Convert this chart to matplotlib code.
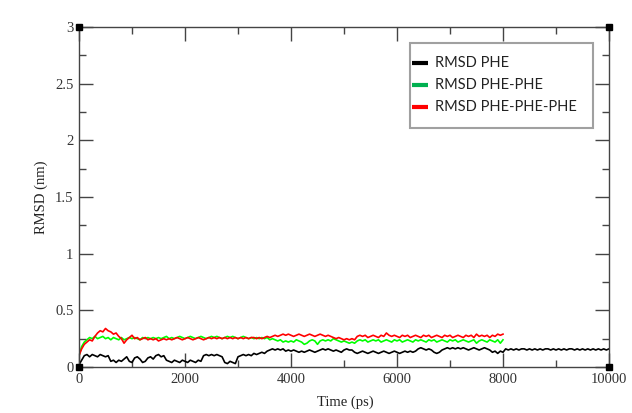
import numpy as np
import matplotlib
matplotlib.use("Agg")
import matplotlib.pyplot as plt
from matplotlib.lines import Line2D
from matplotlib.patches import Rectangle
from matplotlib.ticker import MultipleLocator, FormatStrFormatter

# ---- data (sampled every 50 ps) ----
dt = 50
rmsd_phe = [
    0.02, 0.06, 0.10, 0.11, 0.09, 0.11, 0.10, 0.09, 0.11, 0.10,
    0.09, 0.10, 0.05, 0.06, 0.04, 0.06, 0.05, 0.07, 0.09, 0.05,
    0.04, 0.08, 0.09, 0.07, 0.04, 0.05, 0.08, 0.09, 0.07, 0.10,
    0.11, 0.09, 0.10, 0.06, 0.05, 0.04, 0.06, 0.05, 0.04, 0.06,
    0.05, 0.04, 0.06, 0.05, 0.04, 0.06, 0.05, 0.10, 0.11, 0.10,
    0.11, 0.10, 0.11, 0.10, 0.09, 0.04, 0.03, 0.05, 0.04, 0.03,
    0.09, 0.10, 0.11, 0.10, 0.11, 0.10, 0.12, 0.11, 0.12, 0.13,
    0.12, 0.14, 0.15, 0.16, 0.15, 0.16, 0.15, 0.16, 0.14, 0.15,
    0.14, 0.15, 0.14, 0.13, 0.14, 0.13, 0.14, 0.15, 0.14, 0.13,
    0.14, 0.15, 0.16, 0.15, 0.16, 0.15, 0.14, 0.15, 0.14, 0.13,
    0.15, 0.16, 0.15, 0.15, 0.13, 0.12, 0.13, 0.14, 0.13, 0.12,
    0.13, 0.14, 0.13, 0.12, 0.13, 0.14, 0.13, 0.12, 0.13, 0.14,
    0.13, 0.12, 0.13, 0.14, 0.13, 0.14, 0.13, 0.14, 0.16, 0.17,
    0.16, 0.15, 0.16, 0.15, 0.13, 0.12, 0.13, 0.15, 0.16, 0.17,
    0.16, 0.17, 0.16, 0.17, 0.16, 0.17, 0.16, 0.15, 0.16, 0.17,
    0.16, 0.15, 0.16, 0.17, 0.16, 0.15, 0.13, 0.14, 0.12, 0.14,
    0.13, 0.16, 0.15, 0.16, 0.15, 0.16, 0.15, 0.16, 0.16, 0.15,
    0.16, 0.15, 0.16, 0.15, 0.16, 0.15, 0.16, 0.16, 0.15, 0.16,
    0.15, 0.16, 0.15, 0.16, 0.15, 0.16, 0.16, 0.15, 0.16, 0.15,
    0.16, 0.15, 0.16, 0.15, 0.16, 0.15, 0.16, 0.15, 0.16, 0.15,
    0.16,
]
rmsd_phe_phe = [
    0.10, 0.18, 0.22, 0.24, 0.26, 0.25, 0.27, 0.25, 0.26, 0.27,
    0.25, 0.26, 0.24, 0.26, 0.25, 0.24, 0.26, 0.24, 0.25, 0.26,
    0.25, 0.26, 0.25, 0.24, 0.26, 0.25, 0.26, 0.25, 0.26, 0.25,
    0.26, 0.25, 0.26, 0.27, 0.25, 0.26, 0.25, 0.26, 0.27, 0.26,
    0.25, 0.26, 0.27, 0.26, 0.25, 0.26, 0.27, 0.26, 0.25, 0.26,
    0.27, 0.26, 0.27, 0.26, 0.25, 0.26, 0.27, 0.26, 0.27, 0.26,
    0.25, 0.26, 0.27, 0.26, 0.25, 0.26, 0.25, 0.26, 0.25, 0.26,
    0.25, 0.26, 0.24, 0.25, 0.24, 0.23, 0.24, 0.22, 0.23, 0.22,
    0.23, 0.22, 0.24, 0.23, 0.22, 0.20, 0.21, 0.23, 0.24, 0.23,
    0.20, 0.23, 0.24, 0.23, 0.24, 0.23, 0.25, 0.24, 0.23, 0.22,
    0.23, 0.22, 0.21, 0.22, 0.21, 0.23, 0.24, 0.23, 0.24, 0.22,
    0.23, 0.24, 0.23, 0.24, 0.22, 0.23, 0.24, 0.23, 0.22, 0.24,
    0.23, 0.24, 0.22, 0.23, 0.24, 0.23, 0.22, 0.24, 0.23, 0.24,
    0.23, 0.22, 0.24, 0.23, 0.24, 0.22, 0.23, 0.24, 0.23, 0.22,
    0.24, 0.23, 0.24, 0.22, 0.23, 0.24, 0.23, 0.22, 0.23, 0.24,
    0.21, 0.23, 0.24, 0.23, 0.22, 0.24, 0.23, 0.22, 0.24, 0.21,
    0.24,
]
rmsd_phe_phe_phe = [
    0.10, 0.16, 0.20, 0.22, 0.24, 0.23, 0.27, 0.30, 0.32, 0.31,
    0.34, 0.32, 0.31, 0.29, 0.30, 0.27, 0.25, 0.21, 0.24, 0.26,
    0.28, 0.25, 0.26, 0.24, 0.25, 0.26, 0.24, 0.25, 0.24, 0.25,
    0.23, 0.24, 0.25, 0.24, 0.25, 0.24, 0.25, 0.26, 0.25, 0.24,
    0.25, 0.26, 0.25, 0.24, 0.25, 0.26, 0.25, 0.24, 0.25, 0.26,
    0.25, 0.26, 0.25, 0.26, 0.25, 0.26, 0.25, 0.26, 0.25, 0.26,
    0.25, 0.26, 0.25, 0.26, 0.25, 0.26, 0.26, 0.25, 0.26, 0.25,
    0.26, 0.27, 0.26, 0.27, 0.28, 0.27, 0.28, 0.29, 0.28, 0.29,
    0.28, 0.27, 0.28, 0.29, 0.28, 0.27, 0.28, 0.29, 0.28, 0.27,
    0.28, 0.29, 0.28, 0.27, 0.28, 0.27, 0.26, 0.25, 0.26, 0.25,
    0.24, 0.25, 0.24, 0.25, 0.24, 0.27, 0.28, 0.27, 0.28, 0.26,
    0.27, 0.28, 0.27, 0.26, 0.28, 0.27, 0.30, 0.28, 0.27, 0.28,
    0.27, 0.26, 0.28, 0.27, 0.28, 0.26, 0.27, 0.28, 0.27, 0.26,
    0.28, 0.27, 0.28, 0.26, 0.27, 0.28, 0.27, 0.26, 0.28, 0.27,
    0.28, 0.26, 0.27, 0.28, 0.27, 0.26, 0.28, 0.27, 0.28, 0.26,
    0.29, 0.27, 0.28, 0.27, 0.28, 0.26, 0.28, 0.27, 0.29, 0.28,
    0.29,
]
series_labels = ["RMSD PHE", "RMSD PHE-PHE", "RMSD PHE-PHE-PHE"]
legend_colors = ["black", "#00b050", "#ff0000"]

t_phe = np.arange(len(rmsd_phe)) * dt
t_pp = np.arange(len(rmsd_phe_phe)) * dt
t_ppp = np.arange(len(rmsd_phe_phe_phe)) * dt

W, H = 632, 413

def fx(px):
    return px / W

def fy(py):
    return 1 - py / H

# ---- figure ----
fig = plt.figure(figsize=(W / 100, H / 100), dpi=100)
ax = fig.add_axes([79 / W, 46 / H, 530 / W, 340 / H])

ax.plot(t_phe, rmsd_phe, color="black", lw=1.2)
ax.plot(t_pp, rmsd_phe_phe, color="#00ff00", lw=1.2)
ax.plot(t_ppp, rmsd_phe_phe_phe, color="#ff0000", lw=1.2)

ax.set_xlim(0, 10000)
ax.set_ylim(0, 3)
ax.xaxis.set_major_locator(MultipleLocator(2000))
ax.xaxis.set_minor_locator(MultipleLocator(1000))
ax.yaxis.set_major_locator(MultipleLocator(0.5))
ax.yaxis.set_minor_locator(MultipleLocator(0.25))
ax.yaxis.set_major_formatter(FormatStrFormatter("%g"))
ax.xaxis.set_major_formatter(FormatStrFormatter("%g"))

serif = "Liberation Serif"
ax.tick_params(which="both", direction="in", top=True, right=True,
               color="#444444", width=1.0)
ax.tick_params(which="major", length=10, labelsize=10.5, pad=4)
ax.tick_params(which="minor", length=5)
for lab in ax.get_xticklabels() + ax.get_yticklabels():
    lab.set_fontfamily(serif)
    lab.set_color("#333333")
for sp in ax.spines.values():
    sp.set_color("#444444")
    sp.set_linewidth(1.0)

ax.set_xlabel("Time (ps)", fontfamily=serif, fontsize=10.5, color="#222222")
ax.set_ylabel("RMSD (nm)", fontfamily=serif, fontsize=10.5, color="#222222")
ax.xaxis.set_label_coords((345 - 79) / 530, (367 - 396) / 340)
ax.yaxis.set_label_coords((48 - 79) / 530, 0.5)

# corner square markers (Grace artifacts)
ax.plot([0, 1, 0, 1], [0, 0, 1, 1], transform=ax.transAxes, ls="none",
        marker="s", ms=5, color="black", clip_on=False, zorder=5)

# ---- legend box (drawn manually to match layout) ----
box = Rectangle((fx(410), fy(128)), fx(593) - fx(410), fy(43) - fy(128),
                transform=fig.transFigure, facecolor="white",
                edgecolor="#a0a0a0", linewidth=1.5, zorder=10)
fig.add_artist(box)
row_y = [63, 85, 107]
for yy, lab, col in zip(row_y, series_labels, legend_colors):
    fig.add_artist(Line2D([fx(412), fx(428)], [fy(yy), fy(yy)],
                          transform=fig.transFigure, color=col, lw=3,
                          solid_capstyle="butt", zorder=11))
    fig.text(fx(435), fy(yy), lab, ha="left", va="center",
             fontfamily="Lato", fontsize=10.5, color="#222222", zorder=11)

fig.savefig("out.png", dpi=100)
